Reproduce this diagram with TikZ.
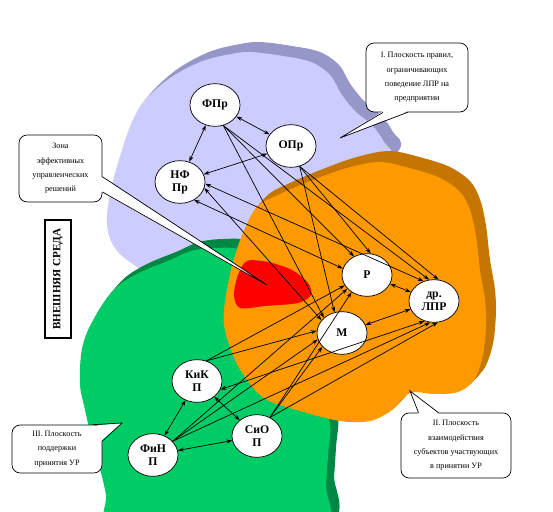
\documentclass[tikz,border=0pt]{standalone}
\usepackage{fontspec}
\setmainfont{Liberation Serif}
\usetikzlibrary{shapes.geometric,arrows.meta}

\definecolor{lavface}{RGB}{204,204,255}
\definecolor{lavside}{RGB}{150,150,200}
\definecolor{orface}{RGB}{255,153,0}
\definecolor{orside}{RGB}{196,118,0}
\definecolor{grface}{RGB}{0,204,102}
\definecolor{grside}{RGB}{0,135,68}

% outlines of the three planes (pixel grid, y downwards)
\newcommand{\lavblob}{plot[smooth cycle,tension=0.55] coordinates {(170,78) (200,62) (226,55) (250,52) (283,56) (311,62) (330,75) (342,95) (356,112) (372,125) (384,142) (390,160) (340,210) (270,250) (200,264) (150,272) (133,264) (118,252) (109,236) (107,215) (112,185) (122,150) (132,122) (145,100)}}
\newcommand{\grblob}{plot[smooth cycle,tension=0.55] coordinates {(119,285) (135,275) (150,268) (168,261) (191,251) (215,248) (240,250) (260,270) (290,330) (320,390) (330,425) (328,455) (326,485) (322,530) (200,535) (110,530) (106,495) (99,465) (92,440) (85,410) (80,385) (81,355) (86,335) (96,315) (107,298)}}
\newcommand{\orblob}{plot[smooth cycle,tension=0.55] coordinates {(257,207) (280,194) (313,180) (347,168) (380,162) (413,169) (440,178) (460,192) (470,210) (476,236) (480,270) (485,300) (486,325) (483,355) (474,380) (458,392) (435,394) (410,393) (392,410) (370,421) (340,421) (300,411) (267,400) (250,384) (235,360) (224,325) (226,295) (233,262) (243,233)}}

\begin{document}
\begin{tikzpicture}[x=0.03cm,y=-0.03cm,>={Stealth[length=5pt,width=3.4pt]},
    agent/.style={ellipse,draw,fill=white,line width=0.6pt,minimum width=1.5cm,
      minimum height=1.28cm,inner sep=0pt,align=center,
      font=\fontsize{10}{11}\selectfont\bfseries},
    notebox/.style={draw,fill=white,rounded corners=7pt,line width=0.6pt,
      align=center,inner sep=0pt,font=\fontsize{7}{12.2}\selectfont},
    conn/.style={line width=0.6pt}]

    \useasboundingbox (0,0) rectangle (553,512);

    % planes with their raised sides
    \foreach \k in {1,...,10}
      \fill[lavside,shift={(0.9*\k,-\k)}] \lavblob;
    \fill[lavface] \lavblob;
    \foreach \k in {1,...,9}
      \fill[grside,shift={(0.9*\k,-\k)}] \grblob;
    \fill[grface] \grblob;
    \foreach \k in {1,...,11}
      \fill[orside,shift={(0.9*\k,-\k)}] \orblob;
    \fill[orface] \orblob;

    % zone of effective decisions
    \fill[red] plot[smooth cycle,tension=0.5] coordinates {(238,275) (247,261) (268,262) (292,270) (308,283) (311,295) (298,303) (265,306) (240,308) (234,295)};

    % callouts
    \node[notebox,minimum width=3.06cm,minimum height=2.07cm] (planeone) at (417,77.5)
      {I. Плоскость правил,\\ограничивающих\\поведение ЛПР на\\предприятии};
    \node[notebox,minimum width=2.49cm,minimum height=2.01cm] (zone) at (60.5,168.5)
      {Зона\\эффективных\\управленческих\\решений};
    \node[notebox,minimum width=3.3cm,minimum height=1.95cm] (planetwo) at (456,445.5)
      {II. Плоскость\\взаимодействия\\субъектов участвующих\\в принятии УР};
    \node[notebox,minimum width=2.7cm,minimum height=1.44cm] (planethree) at (57,449)
      {III. Плоскость\\поддержки\\принятия УР};

    \coordinate (onetip) at (340,138);
    \coordinate (zonetip) at (267,285);
    \coordinate (twotip) at (410,391);
    \coordinate (threetip) at (122,423);

    \fill[white] ([xshift=-29pt,yshift=1pt]planeone.south) -- (onetip) -- ([xshift=-8pt,yshift=1pt]planeone.south) -- cycle;
    \draw[conn] ([xshift=-29pt]planeone.south) -- (onetip) -- ([xshift=-8pt]planeone.south);
    \fill[white] ([xshift=-1pt,yshift=-7pt]zone.east) -- (zonetip) -- ([xshift=-1pt,yshift=-20pt]zone.east) -- cycle;
    \draw[conn] ([yshift=-7pt]zone.east) -- (zonetip) -- ([yshift=-20pt]zone.east);
    \fill[white] ([xshift=-32pt,yshift=-1pt]planetwo.north) -- (twotip) -- ([xshift=-15pt,yshift=-1pt]planetwo.north) -- cycle;
    \draw[conn] ([xshift=-32pt]planetwo.north) -- (twotip) -- ([xshift=-15pt]planetwo.north);
    \fill[white] ([xshift=-8pt,yshift=-1pt]planethree.north east) -- (threetip) -- ([xshift=-1pt,yshift=-14pt]planethree.north east) -- ([xshift=-4pt,yshift=-4pt]planethree.north east) -- cycle;
    \draw[conn] ([xshift=-8pt]planethree.north east) -- (threetip) -- ([yshift=-14pt]planethree.north east);

    \node[draw,line width=0.9pt,rotate=90,minimum width=3.54cm,minimum height=0.78cm,
      inner sep=0pt,font=\fontsize{9.5}{10}\selectfont\bfseries] (env) at (58,279) {ВНЕШНЯЯ СРЕДА};

    % subjects
    \node[agent] (fpr) at (215,105) {ФПр};
    \node[agent] (opr) at (291,146) {ОПр};
    \node[agent] (nfpr) at (180,182) {НФ\\Пр};
    \node[agent] (r) at (367,275) {Р};
    \node[agent] (lpr) at (434,301) {др.\\ЛПР};
    \node[agent] (m) at (342,333) {М};
    \node[agent] (kik) at (197,381) {КиК\\П};
    \node[agent] (sio) at (257,436) {СиО\\П};
    \node[agent] (fin) at (153,455) {ФиН\\П};

    % plane I
    \draw[conn,<->] (fpr) -- (opr);
    \draw[conn,<->] (fpr) -- (nfpr);
    \draw[conn,<->] (opr) -- (nfpr);
    \draw[conn,->] (fpr.-68) -- (m.140);
    \draw[conn,->] (fpr.-68) -- (r.125);
    \draw[conn,->] (fpr.-68) -- (lpr.103);
    \draw[conn,->] (opr.-67) -- (m.110);
    \draw[conn,->] (opr.-67) -- (r.80);
    \draw[conn,->] (opr.-67) -- (lpr.78);
    \draw[conn,<->] (nfpr.-14) -- (m.148);
    \draw[conn,<->] (nfpr.-4) -- (lpr.118);
    \draw[conn,<->] (nfpr.-52) -- (r.165);

    % plane II
    \draw[conn,<->] (r) -- (lpr);
    \draw[conn,<->] (m) -- (lpr);

    % plane III
    \draw[conn,<->] (kik) -- (fin);
    \draw[conn,<->] (fin) -- (sio);
    \draw[conn,<->] (kik) -- (sio);
    \draw[conn,->] (kik.65) -- (r.205);
    \draw[conn,->] (kik.65) -- (m.175);
    \draw[conn,<->] (kik.-20) -- (lpr.-115);
    \draw[conn,->] (fin.35) -- (r.215);
    \draw[conn,->] (fin.35) -- (m.195);
    \draw[conn,->] (fin.35) -- (lpr.-100);
    \draw[conn,->] (sio.55) -- (r.228);
    \draw[conn,->] (sio.55) -- (m.215);
    \draw[conn,->] (sio.55) -- (lpr.-80);
\end{tikzpicture}
\end{document}
